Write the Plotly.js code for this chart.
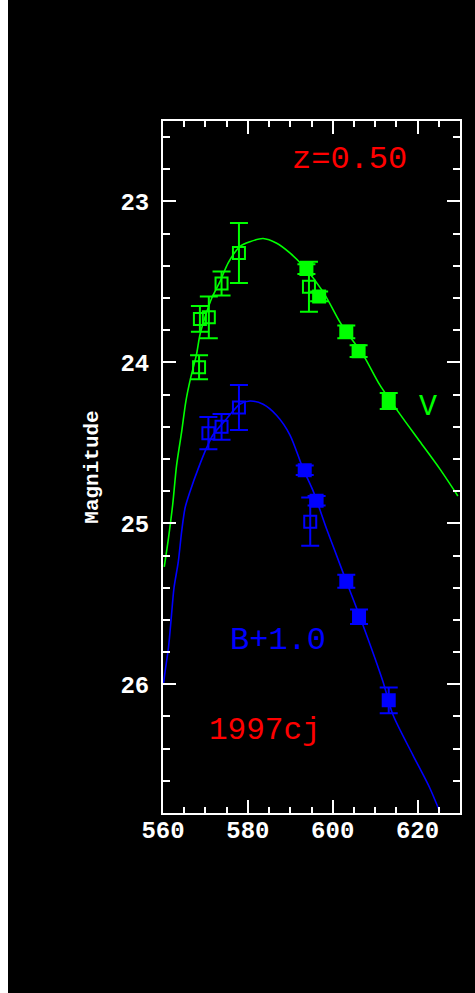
<!DOCTYPE html>
<html>
<head>
<meta charset="utf-8">
<script src="https://cdn.plot.ly/plotly-3.0.1.min.js"></script>
<style>
html, body { margin: 0; padding: 0; background: #ffffff; }
#chart { position: absolute; left: 8px; top: 0; width: 467px; height: 993px; background: #000; }
</style>
</head>
<body>
<div id="chart"></div>
<script>
// V band: open squares
const vOpenX = [568.5, 568.7, 570.8, 573.8, 577.9, 594.4];
const vOpenY = [24.03, 23.73, 23.72, 23.51, 23.32, 23.53];
const vOpenErr = [0.075, 0.08, 0.13, 0.075, 0.186, 0.155];
// V band: filled squares
const vFillX = [593.8, 596.8, 603.2, 606.1, 613.2];
const vFillY = [23.42, 23.59, 23.81, 23.93, 24.24];
const vFillErr = [0.03, 0.03, 0.04, 0.036, 0.05];
// B+1.0: open squares
const bOpenX = [570.7, 573.8, 577.9, 594.7];
const bOpenY = [24.44, 24.40, 24.28, 24.99];
const bOpenErr = [0.1, 0.08, 0.14, 0.15];
// B+1.0: filled squares
const bFillX = [593.4, 596.2, 603.2, 606.2, 613.2];
const bFillY = [24.67, 24.86, 25.36, 25.58, 26.10];
const bFillErr = [0.03, 0.03, 0.04, 0.045, 0.08];
// Template fit curves
const vCurveX = [560.3, 561.3, 562.3, 563.2, 564.4, 565.4, 566.4, 567.9, 568.7, 569.9, 571.5, 573.4, 575.4, 578.1, 580.5, 583.6, 586.8, 589.9, 593.0, 597.7, 601.6, 603.2, 607.1, 611.1, 615.8, 620.5, 625.2, 629.5];
const vCurveY = [25.27, 25.09, 24.88, 24.64, 24.43, 24.24, 24.11, 23.95, 23.83, 23.72, 23.60, 23.50, 23.38, 23.28, 23.25, 23.23, 23.26, 23.32, 23.40, 23.56, 23.745, 23.81, 23.95, 24.14, 24.32, 24.49, 24.66, 24.83];
const bCurveX = [560.1, 560.5, 561.3, 562.0, 562.6, 563.6, 564.4, 565.2, 566.4, 568.3, 570.3, 571.8, 575.0, 578.1, 580.5, 583.6, 586.8, 589.9, 593.0, 595.4, 598.5, 600.5, 603.2, 607.1, 611.8, 614.2, 618.9, 622.8, 625.2];
const bCurveY = [26.0, 25.92, 25.77, 25.57, 25.40, 25.24, 25.05, 24.905, 24.80, 24.66, 24.53, 24.45, 24.35, 24.26, 24.24, 24.26, 24.33, 24.45, 24.66, 24.80, 25.03, 25.17, 25.36, 25.63, 25.98, 26.19, 26.44, 26.64, 26.79];
// Axis ticks
const xTicks = [560, 580, 600, 620];
const yTicks = [23, 24, 25, 26];

const GREEN = '#00ff00', BLUE = '#0000ff', RED = '#ff0000';
const FONT = '"Liberation Mono", "DejaVu Sans Mono", monospace';

function pts(x, y, err, color, symbol) {
  return {
    x: x, y: y, type: 'scatter', mode: 'markers',
    marker: { symbol: symbol, size: 12, color: color, line: { color: color, width: 2 } },
    error_y: { type: 'data', array: err, visible: true, color: color, thickness: 2, width: 9 },
    showlegend: false, hoverinfo: 'x+y'
  };
}
function curve(x, y, color) {
  return { x: x, y: y, type: 'scatter', mode: 'lines',
    line: { color: color, width: 1.6, shape: 'spline', smoothing: 0.8 }, showlegend: false, hoverinfo: 'skip' };
}

const data = [
  curve(vCurveX, vCurveY, GREEN),
  curve(bCurveX, bCurveY, BLUE),
  pts(vOpenX, vOpenY, vOpenErr, GREEN, 'square-open'),
  pts(vFillX, vFillY, vFillErr, GREEN, 'square'),
  pts(bOpenX, bOpenY, bOpenErr, BLUE, 'square-open'),
  pts(bFillX, bFillY, bFillErr, BLUE, 'square')
];

const axisCommon = {
  showgrid: false, zeroline: false, showline: true, mirror: 'ticks',
  linecolor: '#ffffff', linewidth: 2,
  ticks: 'inside', ticklen: 13, tickwidth: 2, tickcolor: '#ffffff',
  tickfont: { family: FONT, size: 24, color: '#ffffff', weight: 'bold' }
};

const layout = {
  width: 467, height: 993,
  paper_bgcolor: '#000000', plot_bgcolor: '#000000',
  margin: { l: 155, r: 15, t: 121, b: 180, pad: 0 },
  showlegend: false,
  xaxis: Object.assign({}, axisCommon, {
    range: [560, 630], tickvals: xTicks, ticktext: xTicks.map(String),
    ticklabelstandoff: -6,
    minor: { dtick: 5, ticklen: 6, tickwidth: 2, tickcolor: '#ffffff', ticks: 'inside' }
  }),
  yaxis: Object.assign({}, axisCommon, {
    range: [26.8, 22.5], tickvals: yTicks, ticktext: yTicks.map(String),
    ticklabelstandoff: 7,
    minor: { dtick: 0.2, ticklen: 7, tickwidth: 2, tickcolor: '#ffffff', ticks: 'inside' },
    title: { text: 'Magnitude', standoff: 16, font: { family: FONT, size: 21, color: '#ffffff', weight: 'bold' } }
  }),
  annotations: [
    { x: 604, y: 22.74, xref: 'x', yref: 'y', text: 'z=0.50', showarrow: false,
      font: { family: FONT, size: 32, color: RED } },
    { x: 622.5, y: 24.28, xref: 'x', yref: 'y', text: 'V', showarrow: false,
      font: { family: FONT, size: 30, color: GREEN } },
    { x: 587.1, y: 25.73, xref: 'x', yref: 'y', text: 'B+1.0', showarrow: false,
      font: { family: FONT, size: 32, color: BLUE } },
    { x: 584, y: 26.29, xref: 'x', yref: 'y', text: '1997cj', showarrow: false,
      font: { family: FONT, size: 31, color: RED } }
  ]
};

Plotly.newPlot('chart', data, layout, { displayModeBar: false, staticPlot: true });
</script>
</body>
</html>
